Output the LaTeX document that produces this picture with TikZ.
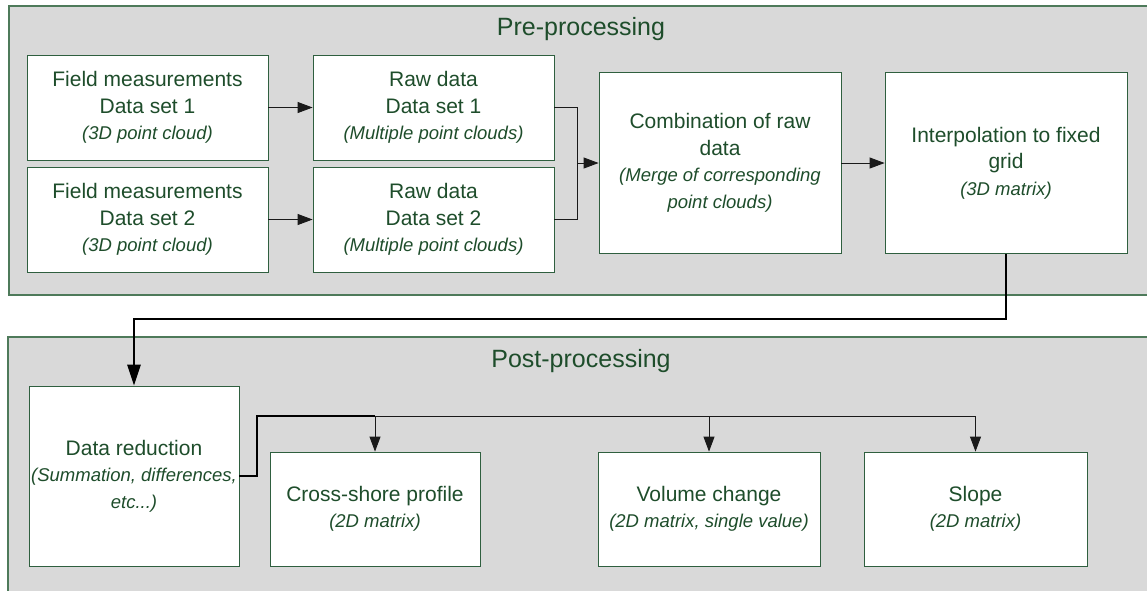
\documentclass[tikz,border=0pt]{standalone}
\usepackage{fontspec}
\setmainfont{Liberation Sans}
\usetikzlibrary{arrows.meta}
\definecolor{txtgreen}{HTML}{1E4D2B}
\definecolor{boxgreen}{HTML}{2F5F3F}
\definecolor{panelgreen}{HTML}{4E7A5A}
\definecolor{panelfill}{HTML}{D9D9D9}
\definecolor{conn}{HTML}{1A1A1A}
\newcommand{\subtxt}[1]{{\fontsize{18.5}{23}\selectfont\itshape #1}}
\tikzset{
  panel/.style={fill=panelfill, draw=panelgreen, line width=1.2pt},
  box/.style={draw=boxgreen, fill=white, line width=0.8pt, align=center, inner sep=0pt,
    text=txtgreen, font=\fontsize{21}{26.5}\selectfont},
  paneltitle/.style={text=txtgreen, font=\fontsize{25}{29}\selectfont, inner sep=0pt},
  thin/.style={draw=conn, line width=0.9pt},
  thick/.style={draw=black, line width=2.6pt},
  tip/.style={-{Triangle[length=15pt,width=11pt]}},
  bigtip/.style={-{Triangle[length=21pt,width=13pt]}}
}
\begin{document}
\begin{tikzpicture}[x=1pt,y=-1pt]
\useasboundingbox (0,0) rectangle (1147,590);
% panels
\path[panel] (9,6) rectangle (1170,295);
\path[panel] (8,337) rectangle (1170,610);
\node[paneltitle] (pretitle) at (581,29) {Pre-processing};
\node[paneltitle] (posttitle) at (581,361) {Post-processing};
% pre-processing boxes
\node[box, minimum width=241pt, minimum height=105pt] (fm1) at (147.5,107.5)
  {Field measurements\\Data set 1\\\subtxt{(3D point cloud)}};
\node[box, minimum width=241pt, minimum height=105pt] (fm2) at (147.5,219.5)
  {Field measurements\\Data set 2\\\subtxt{(3D point cloud)}};
\node[box, minimum width=241pt, minimum height=105pt] (raw1) at (433.5,107.5)
  {Raw data\\Data set 1\\\subtxt{(Multiple point clouds)}};
\node[box, minimum width=241pt, minimum height=105pt] (raw2) at (433.5,219.5)
  {Raw data\\Data set 2\\\subtxt{(Multiple point clouds)}};
\node[box, minimum width=242pt, minimum height=181pt] (comb) at (720,163)
  {Combination of raw\\data\\\subtxt{(Merge of corresponding}\\\subtxt{point clouds)}};
\node[box, minimum width=242pt, minimum height=181pt] (interp) at (1006,163)
  {Interpolation to fixed\\grid\\\subtxt{(3D matrix)}};
% post-processing boxes
\node[box, minimum width=210pt, minimum height=180pt] (dr) at (134,476)
  {Data reduction\\\subtxt{(Summation, differences,}\\\subtxt{etc...)}};
\node[box, minimum width=210pt, minimum height=114pt] (cs) at (375,509)
  {Cross-shore profile\\\subtxt{(2D matrix)}};
\node[box, minimum width=222pt, minimum height=114pt] (vc) at (709,509)
  {Volume change\\\subtxt{(2D matrix, single value)}};
\node[box, minimum width=223pt, minimum height=114pt] (sl) at (975.5,509)
  {Slope\\\subtxt{(2D matrix)}};
% coordinates
\coordinate (mj) at (577,163);
\coordinate (tl) at (0,319);
\coordinate (dj) at (257,476);
\coordinate (bl) at (0,416);
% connectors pre
\draw[thin, tip] (fm1) -- (raw1);
\draw[thin, tip] (fm2) -- (raw2);
\draw[thin] (raw1.east) -| (mj);
\draw[thin] (raw2.east) -| (mj);
\draw[thin, tip] (mj) -- (comb.west);
\draw[thin, tip] (comb) -- (interp);
% thick connector
\draw[thick, bigtip] (interp.south) -- (interp.south |- tl) -| (dr.north);
% post connectors
\draw[draw=black, line width=1.6pt] (dr.east |- dj) -- (dj) -- (dj |- bl) -- (cs.north |- bl);
\draw[thin, tip] (cs.north |- bl) -- (sl.north |- bl) -- (sl.north);
\draw[thin, tip] (cs.north |- bl) -- (cs.north);
\draw[thin, tip] (vc.north |- bl) -- (vc.north);
\end{tikzpicture}
\end{document}
